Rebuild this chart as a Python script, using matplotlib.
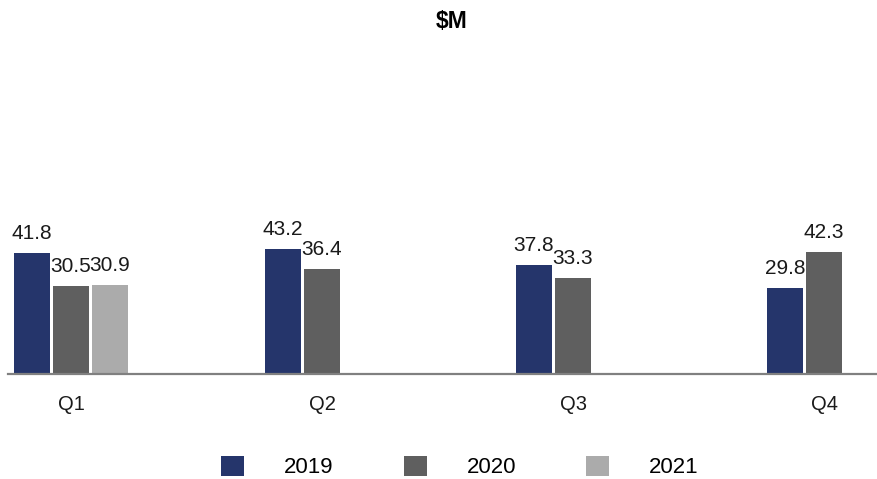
import matplotlib
matplotlib.use("Agg")
import matplotlib.pyplot as plt
from matplotlib.patches import Patch
import numpy as np

quarters = ["Q1", "Q2", "Q3", "Q4"]
series_names = ["2019", "2020", "2021"]
v2019 = [41.8, 43.2, 37.8, 29.8]
v2020 = [30.5, 36.4, 33.3, 42.3]
v2021 = [30.9, None, None, None]
colors = ["#25356B", "#5F5F5F", "#ABABAB"]
title_text = "$M"

plt.rcParams['font.family'] = ['Liberation Sans', 'DejaVu Sans']

W, H = 877, 479
fig = plt.figure(figsize=(W / 100, H / 100), dpi=100)

# axes: left at 8px, bottom baseline at y=374px, top at y=100px
ax = fig.add_axes([8 / W, (H - 374) / H, (W - 8) / W, (374 - 100) / H])

slot = 39 / 251
barw = 36 / 251
x = np.arange(len(quarters))
all_series = [v2019, v2020, v2021]
for i, (vals, col) in enumerate(zip(all_series, colors)):
    off = (i - 1) * slot
    for j, v in enumerate(vals):
        if v is None:
            continue
        ax.bar(x[j] + off, v, width=barw, color=col, zorder=2)
        ax.annotate(f"{v:.1f}", (x[j] + off, v), xytext=(0, 7), textcoords="offset points",
                    ha="center", va="bottom", fontsize=15, color="#1a1a1a")

ax.set_xlim((8 - 71) / 251, (W - 71) / 251)
ax.set_ylim(0, 94.8)
ax.set_xticks(x)
ax.set_xticklabels(quarters, fontsize=14.5, color="#1a1a1a")
ax.tick_params(axis="x", length=0, pad=15)
ax.set_yticks([])
for s in ["top", "right", "left"]:
    ax.spines[s].set_visible(False)
ax.spines["bottom"].set_color("#808080")
ax.spines["bottom"].set_linewidth(1.6)
ax.spines["bottom"].set_zorder(3)

fig.text(452 / W, 1 - 21 / H, title_text, ha="center", va="center",
         fontsize=16.5, fontweight="bold", color="black")

handles = [Patch(facecolor=c, edgecolor="none") for c in colors]
fig.legend(handles, series_names, loc="center", bbox_to_anchor=(460 / W, 12 / H),
           ncol=3, frameon=False, fontsize=16, handlelength=1.04, handleheight=1.04,
           handletextpad=1.8, columnspacing=3.15, borderpad=0, borderaxespad=0)

fig.savefig("out.png", dpi=100)
